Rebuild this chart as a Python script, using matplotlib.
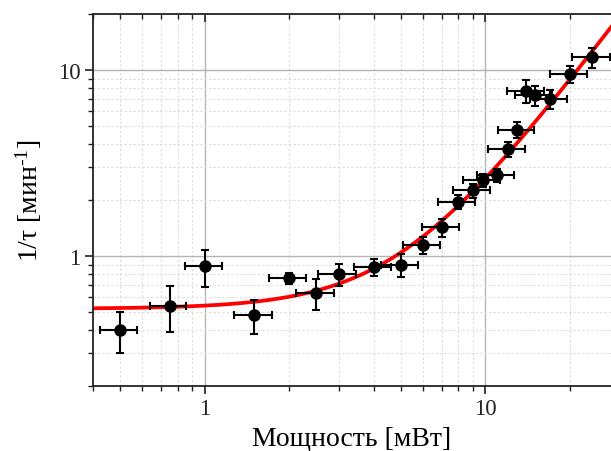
import matplotlib
matplotlib.use("Agg")
import matplotlib.pyplot as plt
import numpy as np
from matplotlib.ticker import LogLocator, NullFormatter

plt.rcParams["font.family"] = ["Liberation Serif", "DejaVu Serif"]
plt.rcParams["mathtext.fontset"] = "custom"
plt.rcParams["mathtext.rm"] = "Liberation Serif"
plt.rcParams["mathtext.it"] = "Liberation Serif:italic"

# Data
power = [0.5, 0.75, 1.0, 1.5, 2.0, 2.5, 3.0, 4.0, 5.0, 6.0, 7.0, 8.0, 9.0,
         9.8, 11.0, 12.0, 13.0, 14.0, 15.0, 17.0, 20.0, 24.0]
rate = [0.40, 0.54, 0.88, 0.48, 0.76, 0.635, 0.80, 0.87, 0.90, 1.14, 1.43,
        1.95, 2.25, 2.55, 2.71, 3.77, 4.78, 7.74, 7.34, 6.99, 9.52, 11.7]
power_err = [0.075, 0.11, 0.15, 0.23, 0.30, 0.38, 0.46, 0.60, 0.75, 0.90, 1.05,
             1.20, 1.35, 1.45, 1.65, 1.80, 1.95, 2.10, 2.25, 2.55, 3.0, 3.7]
rate_err = [0.10, 0.15, 0.20, 0.10, 0.05, 0.12, 0.11, 0.09, 0.13, 0.12, 0.16,
            0.17, 0.20, 0.20, 0.22, 0.35, 0.45, 1.1, 0.9, 0.8, 1.0, 1.5]

# fit: 1/tau = a + b * P^2
fit_a = 0.52
fit_b = 0.021

fig = plt.figure(figsize=(6.11, 4.52), dpi=100)
ax = fig.add_axes([93 / 611, 65 / 452, 518 / 611, 372 / 452])

p = np.logspace(np.log10(0.4), np.log10(28), 300)
ax.plot(p, fit_a + fit_b * p ** 2, color="red", lw=2.7, zorder=2)

ax.errorbar(power, rate, xerr=power_err, yerr=rate_err, fmt="o", color="black",
            ms=8, elinewidth=1.5, capsize=3.2, capthick=1.5, zorder=3)

ax.set_xscale("log")
ax.set_yscale("log")
ax.set_xlim(0.4, 28)
ax.set_ylim(0.2, 20)

ax.xaxis.set_minor_locator(LogLocator(base=10, subs=np.arange(2, 10), numticks=20))
ax.yaxis.set_minor_locator(LogLocator(base=10, subs=np.arange(2, 10), numticks=20))
ax.xaxis.set_minor_formatter(NullFormatter())
ax.yaxis.set_minor_formatter(NullFormatter())
ax.set_xticks([1, 10])
ax.set_xticklabels(["1", "10"])
ax.set_yticks([1, 10])
ax.set_yticklabels(["1", "10"])

ax.grid(which="major", color="#b4b4b4", lw=1.0, ls="-")
ax.grid(which="minor", color="#dcdcdc", lw=0.8, ls=(0, (2, 2)))
ax.set_axisbelow(True)

for s in ["left", "bottom", "top"]:
    ax.spines[s].set_linewidth(1.3)
    ax.spines[s].set_color("#222222")
ax.spines["right"].set_visible(False)

ax.tick_params(which="major", direction="out", length=6, width=1.2, labelsize=16.5,
               colors="#222222", pad=3)
ax.tick_params(which="minor", direction="out", length=3.5, width=1.0, colors="#222222")
ax.tick_params(which="both", top=True, right=False)

ax.set_xlabel("Мощность [мВт]", fontsize=20, labelpad=5)
ax.set_ylabel(r"1/τ [мин$^{\text{-1}}$]", fontsize=20, labelpad=10)

# top ticks point inward
for t in ax.xaxis.get_major_ticks() + ax.xaxis.get_minor_ticks():
    t.tick2line.set_marker(matplotlib.lines.TICKDOWN)

fig.savefig("out.png", dpi=100)
